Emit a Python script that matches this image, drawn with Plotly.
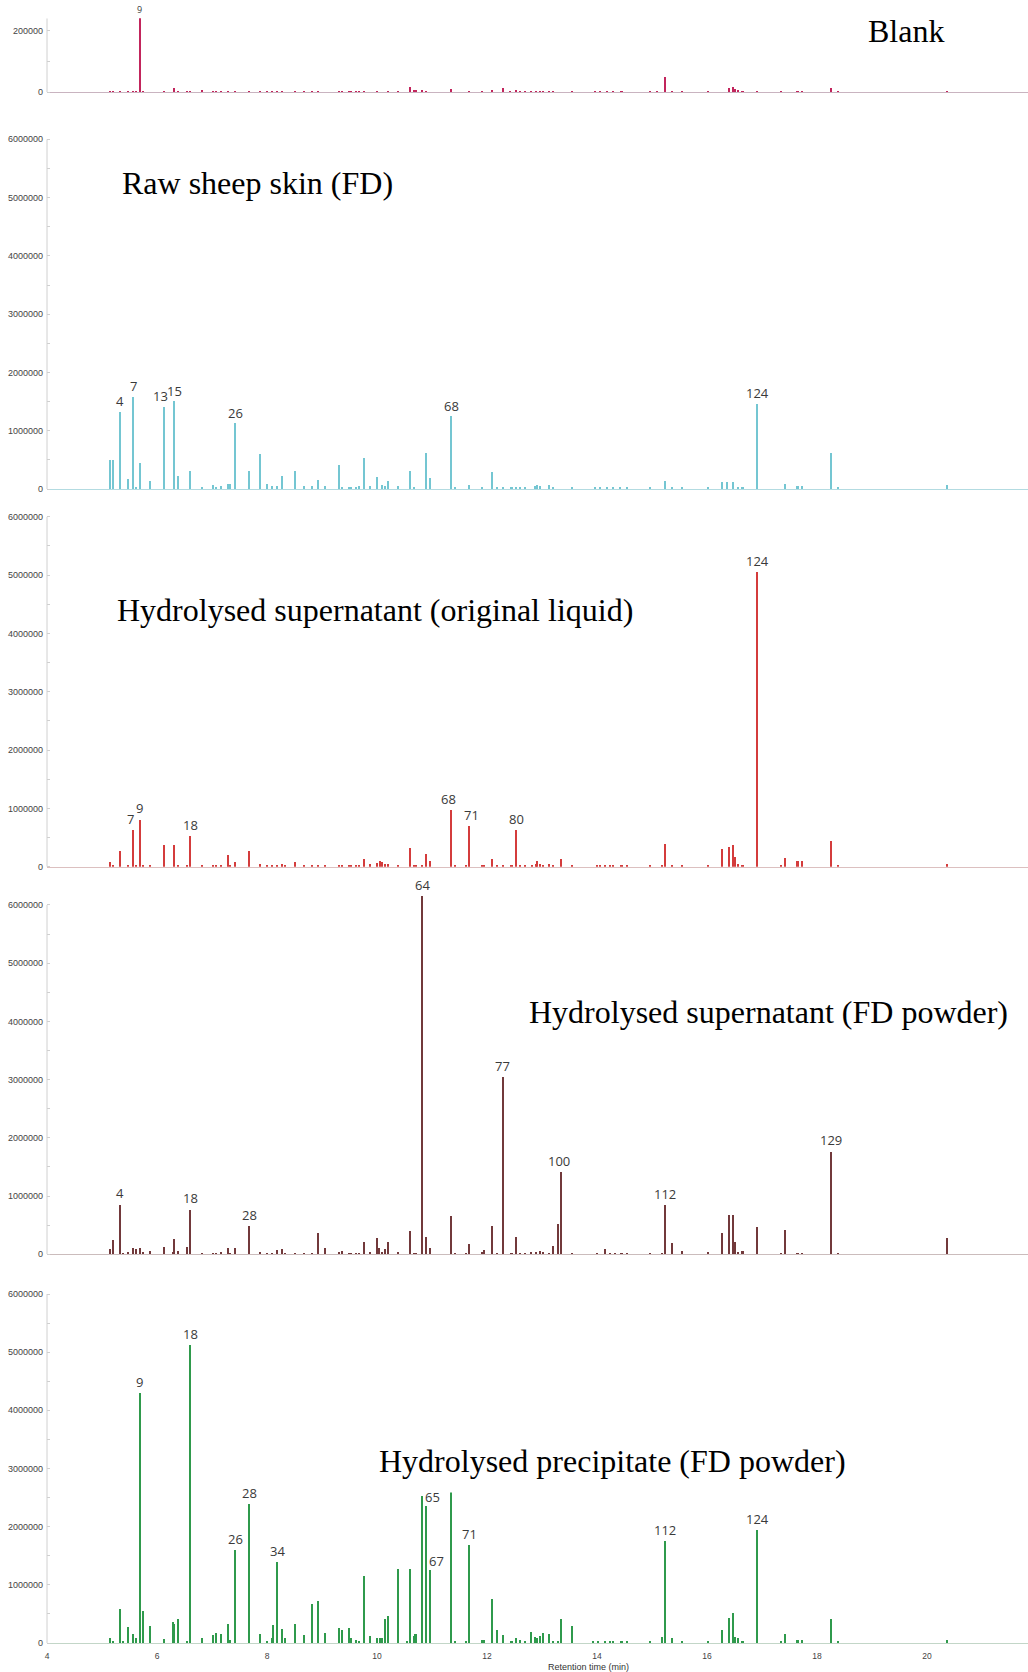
import plotly.graph_objects as go

# ---------------- data (retention time in min, intensity in counts) ----------------
BLANK_RT = [5.15, 5.20, 5.33, 5.47, 5.57, 5.62, 5.69, 5.75, 6.14, 6.31, 6.38, 6.55, 6.61, 6.83, 7.02,
            7.08, 7.16, 7.29, 7.43, 7.68, 7.87, 8.00, 8.09, 8.19, 8.28, 8.52, 8.68, 8.83, 8.94, 9.32,
            9.36, 9.50, 9.53, 9.62, 9.68, 9.76, 10.01, 10.21, 10.38, 10.61, 10.67, 10.72, 10.83, 10.89,
            11.35, 11.68, 11.92, 12.10, 12.29, 12.42, 12.53, 12.61, 12.70, 12.81, 12.90, 12.97, 13.02,
            13.14, 13.21, 13.55, 13.97, 14.06, 14.18, 14.30, 14.45, 14.97, 15.09, 15.24, 15.36, 15.55,
            16.02, 16.41, 16.48, 16.51, 16.56, 16.65, 16.92, 17.35, 17.65, 17.73, 18.26, 18.38, 20.36]
BLANK_I = [3000, 2000, 3000, 2000, 3000, 2000, 240000, 2000, 3000, 13000, 3000, 3000, 2000, 5000, 3000,
           3000, 3000, 3000, 2000, 2000, 3000, 3000, 3000, 3000, 3000, 3000, 3000, 3000, 2000, 3000,
           3000, 2000, 3000, 2000, 3000, 2000, 3000, 3000, 3000, 16000, 5000, 4000, 5000, 3000,
           10000, 3000, 3000, 5000, 14000, 3000, 5000, 3000, 3000, 3000, 3000, 3000, 3000,
           3000, 2000, 2000, 3000, 3000, 3000, 3000, 3000, 3000, 3000, 49000, 3000, 3000,
           2000, 13000, 16000, 10000, 5000, 3000, 3000, 3000, 3000, 3000, 13000, 2000, 3000]
BLANK_LAB_RT = [5.69]
BLANK_LAB = ["9"]

RAW_RT = [5.15, 5.20, 5.33, 5.47, 5.57, 5.62, 5.69, 5.87, 6.14, 6.31, 6.38, 6.61, 6.83, 7.02, 7.08,
          7.16, 7.29, 7.33, 7.43, 7.68, 7.87, 8.00, 8.09, 8.19, 8.28, 8.52, 8.68, 8.83, 8.94, 9.06,
          9.32, 9.36, 9.50, 9.53, 9.62, 9.68, 9.76, 9.87, 10.01, 10.09, 10.15, 10.21, 10.38, 10.61,
          10.67, 10.89, 10.97, 11.35, 11.42, 11.68, 11.92, 12.10, 12.19, 12.29, 12.45, 12.53, 12.61,
          12.70, 12.88, 12.92, 12.97, 13.14, 13.21, 13.55, 13.97, 14.06, 14.18, 14.30, 14.42, 14.55,
          14.97, 15.24, 15.36, 15.55, 16.02, 16.28, 16.36, 16.48, 16.56, 16.65, 16.92, 17.42, 17.65,
          17.73, 18.26, 18.38, 20.36]
RAW_I = [500000, 490000, 1320000, 170000, 1580000, 20000, 440000, 130000, 1400000, 1500000, 220000,
         310000, 20000, 60000, 30000, 40000, 80000, 80000, 1120000, 310000, 600000, 80000, 40000,
         40000, 220000, 300000, 40000, 40000, 150000, 50000, 400000, 20000, 30000, 30000, 30000,
         50000, 520000, 50000, 200000, 70000, 50000, 140000, 40000, 310000, 30000, 610000, 180000,
         1240000, 20000, 70000, 20000, 290000, 20000, 20000, 30000, 30000, 20000, 20000, 50000,
         60000, 50000, 60000, 20000, 20000, 20000, 20000, 20000, 20000, 20000, 20000, 20000,
         130000, 30000, 20000, 20000, 120000, 110000, 120000, 30000, 20000, 1460000, 80000, 40000,
         40000, 610000, 20000, 70000]
RAW_LAB_RT = [5.33, 5.57, 6.14, 6.31, 7.43, 11.35, 16.92]
RAW_LAB = ["4", "7", "13", "15", "26", "68", "124"]

LIQ_RT = [5.15, 5.20, 5.33, 5.47, 5.57, 5.62, 5.69, 5.75, 5.87, 6.14,
          6.31, 6.38, 6.55, 6.61, 6.83, 7.02, 7.08, 7.16, 7.29, 7.33,
          7.43, 7.68, 7.87, 8.00, 8.09, 8.19, 8.28, 8.33, 8.52, 8.68,
          8.83, 8.94, 9.06, 9.32, 9.36, 9.50, 9.53, 9.62, 9.68, 9.76,
          9.87, 10.01, 10.06, 10.09, 10.15, 10.21, 10.38, 10.61, 10.67, 10.72,
          10.83, 10.89, 10.97, 11.35, 11.42, 11.62, 11.68, 11.92, 11.95, 12.10,
          12.19, 12.29, 12.45, 12.53, 12.61, 12.70, 12.82, 12.90, 12.92, 12.97,
          13.02, 13.14, 13.21, 13.35, 13.55, 14.00, 14.06, 14.15, 14.24, 14.30,
          14.45, 14.55, 14.97, 15.18, 15.24, 15.36, 15.55, 16.02, 16.28, 16.41,
          16.48, 16.51, 16.56, 16.65, 16.92, 17.35, 17.42, 17.65, 17.73, 18.26,
          18.38, 20.36]
LIQ_I = [90000, 30000, 270000, 40000, 630000, 30000, 810000, 30000, 20000, 370000,
         380000, 30000, 20000, 530000, 20000, 30000, 30000, 30000, 210000, 30000,
         90000, 270000, 50000, 30000, 30000, 30000, 50000, 20000, 80000, 20000,
         20000, 40000, 40000, 40000, 40000, 30000, 30000, 20000, 30000, 140000,
         50000, 70000, 100000, 80000, 50000, 60000, 40000, 330000, 30000, 30000,
         20000, 220000, 100000, 970000, 20000, 20000, 700000, 20000, 20000, 130000,
         20000, 20000, 30000, 630000, 20000, 20000, 30000, 50000, 100000, 60000,
         40000, 50000, 20000, 140000, 20000, 40000, 20000, 20000, 20000, 20000,
         30000, 20000, 20000, 30000, 400000, 20000, 20000, 40000, 310000, 350000,
         370000, 170000, 60000, 20000, 5060000, 30000, 160000, 110000, 110000, 450000,
         30000, 50000]
LIQ_LAB_RT = [5.57, 5.69, 6.61, 11.35, 11.68, 12.53, 16.92]
LIQ_LAB = ["7", "9", "18", "68", "71", "80", "124"]

FDS_RT = [5.15, 5.20, 5.33, 5.38, 5.47, 5.56, 5.62, 5.69, 5.75, 5.87,
          6.14, 6.29, 6.31, 6.38, 6.55, 6.61, 6.83, 7.02, 7.08, 7.16,
          7.29, 7.33, 7.43, 7.68, 7.87, 8.00, 8.09, 8.19, 8.28, 8.33,
          8.52, 8.68, 8.83, 8.94, 9.06, 9.32, 9.36, 9.50, 9.53, 9.62,
          9.68, 9.76, 9.87, 10.01, 10.04, 10.09, 10.15, 10.21, 10.38, 10.61,
          10.67, 10.72, 10.83, 10.89, 10.97, 11.35, 11.42, 11.62, 11.68, 11.92,
          11.95, 12.10, 12.19, 12.29, 12.45, 12.53, 12.61, 12.70, 12.81, 12.90,
          12.97, 13.02, 13.14, 13.21, 13.30, 13.35, 13.55, 14.00, 14.15, 14.24,
          14.33, 14.45, 14.55, 14.97, 15.18, 15.24, 15.36, 15.55, 16.02, 16.28,
          16.41, 16.48, 16.51, 16.56, 16.65, 16.92, 17.35, 17.42, 17.65, 17.73,
          18.26, 18.38, 20.36]
FDS_I = [100000, 260000, 860000, 20000, 50000, 120000, 100000, 120000, 40000, 70000,
         140000, 50000, 270000, 60000, 140000, 770000, 20000, 20000, 20000, 40000,
         120000, 30000, 110000, 490000, 50000, 20000, 20000, 90000, 100000, 30000,
         20000, 20000, 20000, 380000, 110000, 50000, 60000, 20000, 30000, 20000,
         20000, 220000, 50000, 290000, 110000, 50000, 100000, 220000, 50000, 400000,
         20000, 20000, 6160000, 300000, 120000, 660000, 30000, 20000, 180000, 40000,
         80000, 500000, 20000, 3050000, 20000, 310000, 20000, 20000, 50000, 40000,
         60000, 40000, 20000, 150000, 520000, 1420000, 20000, 30000, 100000, 20000,
         20000, 20000, 20000, 20000, 20000, 850000, 200000, 60000, 50000, 380000,
         680000, 680000, 220000, 50000, 70000, 480000, 20000, 420000, 20000, 20000,
         1770000, 20000, 290000]
FDS_LAB_RT = [5.33, 6.61, 7.68, 10.83, 12.29, 13.35, 15.24, 18.26]
FDS_LAB = ["4", "18", "28", "64", "77", "100", "112", "129"]

PPT_RT = [5.15, 5.20, 5.33, 5.38, 5.47, 5.56, 5.62, 5.69, 5.75, 5.87,
          6.14, 6.29, 6.31, 6.38, 6.55, 6.61, 6.83, 7.02, 7.08, 7.16,
          7.29, 7.33, 7.43, 7.68, 7.87, 8.00, 8.09, 8.12, 8.19, 8.28,
          8.33, 8.52, 8.68, 8.83, 8.94, 9.06, 9.32, 9.36, 9.50, 9.53,
          9.62, 9.68, 9.76, 9.87, 10.01, 10.06, 10.09, 10.15, 10.21, 10.38,
          10.55, 10.61, 10.67, 10.70, 10.72, 10.83, 10.89, 10.97, 11.35, 11.42,
          11.62, 11.68, 11.92, 11.95, 12.10, 12.19, 12.29, 12.45, 12.53, 12.61,
          12.70, 12.81, 12.88, 12.92, 12.97, 13.02, 13.14, 13.21, 13.30, 13.35,
          13.55, 13.94, 14.02, 14.15, 14.24, 14.30, 14.45, 14.55, 14.97, 15.18,
          15.24, 15.36, 15.55, 16.02, 16.28, 16.41, 16.48, 16.51, 16.56, 16.65,
          16.92, 17.35, 17.42, 17.65, 17.73, 18.26, 18.38, 20.36]
PPT_I = [80000, 30000, 580000, 20000, 270000, 155000, 80000, 4290000, 550000, 300000,
         70000, 355000, 330000, 410000, 30000, 5120000, 80000, 130000, 170000, 150000,
         330000, 60000, 1600000, 2390000, 150000, 20000, 80000, 310000, 1390000, 240000,
         80000, 330000, 130000, 670000, 720000, 180000, 260000, 220000, 250000, 80000,
         60000, 30000, 1160000, 120000, 90000, 80000, 80000, 420000, 460000, 1270000,
         30000, 1270000, 120000, 150000, 150000, 2520000, 2360000, 1260000, 3300000, 30000,
         20000, 1680000, 60000, 50000, 750000, 230000, 130000, 40000, 80000, 50000,
         30000, 190000, 100000, 80000, 120000, 170000, 150000, 30000, 20000, 410000,
         300000, 40000, 40000, 30000, 30000, 30000, 20000, 20000, 20000, 100000,
         1750000, 90000, 20000, 20000, 230000, 430000, 510000, 100000, 80000, 30000,
         1940000, 30000, 160000, 60000, 60000, 410000, 20000, 60000]
PPT_LAB_RT = [5.69, 6.61, 7.43, 7.68, 8.19, 10.83, 10.89, 10.97, 11.35, 11.68, 15.24, 16.92]
PPT_LAB = ["9", "18", "26", "28", "34", "64", "65", "67", "68", "71", "112", "124"]

PANEL_NAMES = ["Blank", "Raw sheep skin (FD)", "Hydrolysed supernatant (original liquid)",
               "Hydrolysed supernatant (FD powder)", "Hydrolysed precipitate (FD powder)"]
X_TICKS = [4, 6, 8, 10, 12, 14, 16, 18, 20]
X_TITLE = "Retention time (min)"

# ---------------- layout geometry / style ----------------
W, H = 1028, 1672
ML, MR, MT, MB = 47, 0, 0, 29
PW, PH = W - ML - MR, H - MT - MB
PX_PER_MIN = 55.0
X_RANGE = [4, 4 + PW / PX_PER_MIN]


def paper_y(Y):
    return (PH - (Y - MT)) / PH


def paper_x(X):
    return (X - ML) / PW


data_sets = [
    (BLANK_RT, BLANK_I, BLANK_LAB_RT, BLANK_LAB),
    (RAW_RT, RAW_I, RAW_LAB_RT, RAW_LAB),
    (LIQ_RT, LIQ_I, LIQ_LAB_RT, LIQ_LAB),
    (FDS_RT, FDS_I, FDS_LAB_RT, FDS_LAB),
    (PPT_RT, PPT_I, PPT_LAB_RT, PPT_LAB),
]
styles = [
    dict(color="#c2255c", base="#c9b4c0", zero=92.3, ref=18.3, atop=240000, rtop=240000,
         ticks=[0, 200000], minor=100000, lsize=9, title=(905.8, 31.5)),
    dict(color="#74c6d2", base="#b3dbe1", zero=489.0, ref=139.3, atop=6e6, rtop=6e6,
         ticks=[0, 1e6, 2e6, 3e6, 4e6, 5e6, 6e6], minor=5e5, lsize=13, title=(257.5, 183.3)),
    dict(color="#d43c3c", base="#dcc0c0", zero=866.7, ref=516.7, atop=6e6, rtop=6e6,
         ticks=[0, 1e6, 2e6, 3e6, 4e6, 5e6, 6e6], minor=5e5, lsize=13, title=(374.5, 610.3)),
    dict(color="#72393b", base="#cbbcbc", zero=1254.3, ref=905.0, atop=6e6, rtop=6.3e6,
         ticks=[0, 1e6, 2e6, 3e6, 4e6, 5e6, 6e6], minor=5e5, lsize=13, title=(768.3, 1012.0)),
    dict(color="#2f9a4c", base="#c3d6c8", zero=1643.0, ref=1294.0, atop=6e6, rtop=6e6,
         ticks=[0, 1e6, 2e6, 3e6, 4e6, 5e6, 6e6], minor=5e5, lsize=13, title=(612.5, 1460.8)),
]
LABEL_NUDGE = {(1, "13"): (-4, 0), (2, "7"): (-3, 0), (2, "68"): (-3, 0), (2, "71"): (2, 0),
               (4, "65"): (7, -2), (4, "67"): (6, -2), (3, "100"): (-2, 0)}

TICK_FONT = dict(family="Liberation Sans, Arial, sans-serif", size=9, color="#444444")
LABEL_FONT = "Open Sans, Liberation Sans, sans-serif"
TITLE_FONT = dict(family="Liberation Serif, Times New Roman, serif", size=32, color="#000000")

fig = go.Figure()
layout = dict(width=W, height=H, margin=dict(l=ML, r=MR, t=MT, b=MB, pad=0, autoexpand=False),
              plot_bgcolor="white", paper_bgcolor="white", showlegend=False,
              bargap=0, barmode="overlay")
peak_ann = []
shapes = []

for i, ((rt, vals, lab_rt, lab), st) in enumerate(zip(data_sets, styles)):
    assert len(rt) == len(vals), (i, len(rt), len(vals))
    s = "" if i == 0 else str(i + 1)
    xa, ya = "x" + s, "y" + s
    ppv = (st["zero"] - st["ref"]) / st["atop"]
    top_px = st["zero"] - st["rtop"] * ppv
    fig.add_trace(go.Bar(x=rt, y=vals, width=0.028, xaxis=xa, yaxis=ya,
                         marker=dict(color=st["color"], line=dict(width=0)),
                         hoverinfo="x+y"))
    layout["xaxis" + s] = dict(domain=[0, 1], range=X_RANGE, anchor=ya, showline=True,
                               linecolor=st["base"], linewidth=1, showgrid=False, zeroline=False,
                               ticks="", showticklabels=(i == 4), tickvals=X_TICKS,
                               tickfont=dict(TICK_FONT, size=8.5), ticklabelstandoff=5,
                               automargin=False)
    layout["yaxis" + s] = dict(domain=[paper_y(st["zero"]), paper_y(top_px)],
                               range=[0, st["rtop"]], anchor=xa, showline=False, showgrid=False,
                               zeroline=False, ticks="", tickvals=st["ticks"],
                               ticktext=[str(int(v)) for v in st["ticks"]], tickfont=TICK_FONT,
                               ticklabelstandoff=3, automargin=False,
                               minor=dict(dtick=st["minor"], ticks="inside", ticklen=3,
                                          tickcolor="#d0d0d0", tickwidth=1))
    shapes.append(dict(type="line", xref=xa + " domain", yref=ya, x0=0, x1=0, y0=0,
                       y1=st["atop"], line=dict(color="#d0d0d0", width=1)))
    for r, t in zip(lab_rt, lab):
        v = vals[rt.index(r)]
        dx, dy = LABEL_NUDGE.get((i, t), (0, 0))
        peak_ann.append(dict(xref=xa, yref=ya, x=r, y=v, text=t, showarrow=False,
                             xanchor="center", yanchor="bottom", xshift=dx, yshift=dy,
                             font=dict(family=LABEL_FONT, size=st["lsize"], color="#3a3a3a")))

title_ann = []
for i, (name, st) in enumerate(zip(PANEL_NAMES, styles)):
    X, Y = st["title"]
    a = dict(xref="paper", yref="paper", x=paper_x(X), y=paper_y(Y), text=name,
             showarrow=False, xanchor="center", yanchor="middle", font=TITLE_FONT)
    if i == 4:
        a.update(bgcolor="white", borderpad=13)
    title_ann.append(a)

axis_title = dict(xref="paper", yref="paper", x=paper_x(588), y=paper_y(1666.7), text=X_TITLE,
                  showarrow=False, xanchor="center", yanchor="middle",
                  font=dict(family="Liberation Sans, Arial, sans-serif", size=9, color="#333333"))

layout["annotations"] = peak_ann + title_ann + [axis_title]
layout["shapes"] = shapes
fig.update_layout(**layout)
# the page body has a default 8px margin; remove it so the figure fills the window exactly
fig.write_html("out.html", config={"displayModeBar": False},
               post_script="document.body.style.margin='0px';")
